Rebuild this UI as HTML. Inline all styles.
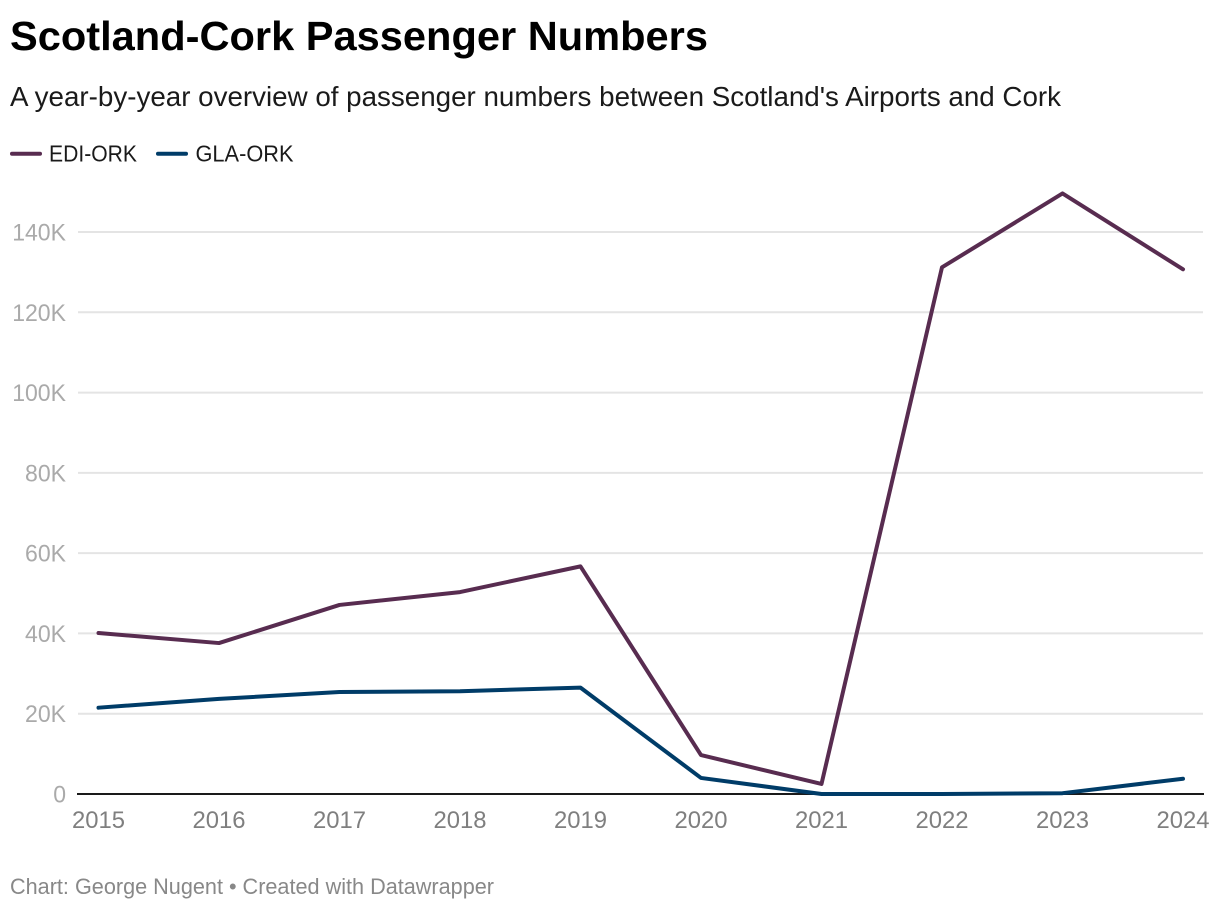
<!DOCTYPE html>
<html lang="en">
<head>
<meta charset="utf-8">
<title>Scotland-Cork Passenger Numbers</title>
<style>
html,body{margin:0;padding:0;background:#fff;width:1220px;height:910px;overflow:hidden}
svg{display:block;font-family:"Liberation Sans",Arial,sans-serif}
</style>
</head>
<body>
<svg id="chart" width="1220" height="910" viewBox="0 0 1220 910" xmlns="http://www.w3.org/2000/svg">
  <rect width="1220" height="910" fill="#ffffff"/>
  <text x="10" y="50" font-size="41" font-weight="700" fill="#000000" textLength="698" lengthAdjust="spacingAndGlyphs">Scotland-Cork Passenger Numbers</text>
  <text x="10" y="106" font-size="28" fill="#1a1a1a" textLength="1051" lengthAdjust="spacingAndGlyphs">A year-by-year overview of passenger numbers between Scotland's Airports and Cork</text>
  <g>
    <g>
      <line x1="12" y1="153.7" x2="40" y2="153.7" stroke="#582c50" stroke-width="4" stroke-linecap="round"/>
      <text x="49" y="161.500" font-size="23.500" fill="#1a1a1a" textLength="88" lengthAdjust="spacingAndGlyphs">EDI-ORK</text>
    </g>
    <g>
      <line x1="158" y1="153.7" x2="186" y2="153.7" stroke="#003c68" stroke-width="4" stroke-linecap="round"/>
      <text x="195.500" y="161.500" font-size="23.500" fill="#1a1a1a" textLength="98" lengthAdjust="spacingAndGlyphs">GLA-ORK</text>
    </g>
  </g>
  <g id="grid"></g>
  <g id="ylabels"></g>
  <g id="xlabels"></g>
  <line x1="77" y1="794" x2="1204" y2="794" stroke="#1a1a1a" stroke-width="2"/>
  <g id="series"></g>
  <text x="10" y="894" font-size="22" fill="#888888" textLength="484" lengthAdjust="spacingAndGlyphs">Chart: George Nugent • Created with Datawrapper</text>
</svg>
<script>
const years = ['2015','2016','2017','2018','2019','2020','2021','2022','2023','2024'];
const ediOrk = [40100,37600,47100,50300,56700,9700,2500,131200,149600,130700];
const glaOrk = [21500,23700,25400,25600,26500,4000,0,0,200,3800];
const yTicks = [0,20000,40000,60000,80000,100000,120000,140000];
const yTickLabels = ['0','20K','40K','60K','80K','100K','120K','140K'];

const NS = 'http://www.w3.org/2000/svg';
const xAxis = i => 98.5 + (1183 - 98.5) * i / (years.length - 1);
const yAxis = v => 794 - (794 - 232) * v / 140000;

function make(tag, attrs, parent, text) {
  const el = document.createElementNS(NS, tag);
  Object.keys(attrs).forEach(k => el.setAttribute(k, attrs[k]));
  if (text !== undefined) el.textContent = text;
  parent.appendChild(el);
  return el;
}

const gridGroup = document.getElementById('grid');
const yLabelGroup = document.getElementById('ylabels');
yTicks.forEach((t, i) => {
  if (t !== 0) {
    const line = make('line', {x1: 78, x2: 1203, y1: yAxis(t), y2: yAxis(t), stroke: '#e4e4e4', 'stroke-width': 2}, gridGroup);
    
    
  }
  const label = make('text', {x: 66, y: yAxis(t) + 8.5, 'text-anchor': 'end', 'font-size': 24, fill: '#aaaaaa'}, yLabelGroup, yTickLabels[i]);
  label.setAttribute('textLength', (label.getComputedTextLength() * 0.96).toFixed(1));
  label.setAttribute('lengthAdjust', 'spacingAndGlyphs');
  
  
});

const xLabelGroup = document.getElementById('xlabels');
years.forEach((yr, i) => {
  const label = make('text', {x: xAxis(i), y: 828, 'text-anchor': 'middle', 'font-size': 24, fill: '#7f7f7f', textLength: 53, lengthAdjust: 'spacingAndGlyphs'}, xLabelGroup, yr);
  
  
});

const seriesGroup = document.getElementById('series');
function drawSeries(values, color) {
  const pts = values.map((v, i) => xAxis(i).toFixed(2) + ',' + yAxis(v).toFixed(2)).join(' ');
  return make('polyline', {points: pts, fill: 'none', stroke: color, 'stroke-width': 4, 'stroke-linejoin': 'round', 'stroke-linecap': 'round'}, seriesGroup);
}
const ediLine = drawSeries(ediOrk, '#582c50');


const glaLine = drawSeries(glaOrk, '#003c68');


</script>
</body>
</html>
